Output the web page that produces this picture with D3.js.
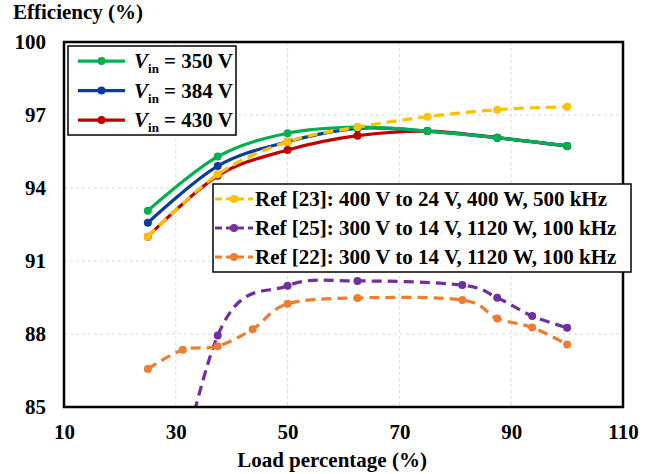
<!DOCTYPE html>
<html>
<head>
<meta charset="utf-8">
<script src="https://cdn.jsdelivr.net/npm/d3@7/dist/d3.min.js"></script>
<style>
  html, body { margin: 0; padding: 0; background: #fff; }
  svg { display: block; font-family: "Liberation Serif", "Times New Roman", serif; font-weight: bold; }
</style>
</head>
<body>
<svg id="chart" width="657" height="474"></svg>
<script>
// ---- data ----
const loadX = [25, 37.5, 50, 62.5, 75, 87.5, 100];
const vin350 = [93.07, 95.29, 96.25, 96.5, 96.34, 96.07, 95.73];
const vin384 = [92.57, 94.9, 95.9, 96.45, 96.34, 96.07, 95.73];
const vin430 = [92.0, 94.5, 95.56, 96.15, 96.34, 96.07, 95.73];
const ref23 = [92.0, 94.56, 95.9, 96.5, 96.93, 97.22, 97.34];
const ref25X = [25, 37.5, 50, 62.5, 81.25, 87.5, 93.75, 100];
const ref25 = [76.5, 87.94, 89.98, 90.18, 90.01, 89.49, 88.74, 88.26];
const ref22X = [25, 31.25, 37.5, 43.75, 50, 62.5, 81.25, 87.5, 93.75, 100];
const ref22 = [86.56, 87.35, 87.5, 88.2, 89.24, 89.48, 89.4, 88.64, 88.27, 87.57];
const xTicks = [10, 30, 50, 70, 90, 110];
const yTicks = [85, 88, 91, 94, 97, 100];
const vinLabels = ["350", "384", "430"];
const refLabels = [
  "Ref [23]: 400 V to 24 V, 400 W, 500 kHz",
  "Ref [25]: 300 V to 14 V, 1120 W, 100 kHz",
  "Ref [22]: 300 V to 14 V, 1120 W, 100 kHz"
];
const xTitle = "Load percentage (%)";
const yTitle = "Efficiency (%)";

// ---- layout ----
const L = 64, R = 623, T = 42, B = 407;
const svg = d3.select("#chart");
const x = d3.scaleLinear().domain([10, 110]).range([L, R]);
const y = d3.scaleLinear().domain([85, 100]).range([B, T]);

// gridlines
svg.append("g").selectAll("line").data(xTicks.slice(1, -1)).join("line")
  .attr("x1", d => x(d)).attr("x2", d => x(d)).attr("y1", T).attr("y2", B)
  .attr("stroke", "#d9d9d9").attr("stroke-width", 1).attr("stroke-dasharray", "3,3");
svg.append("g").selectAll("line").data(yTicks.slice(1, -1)).join("line")
  .attr("y1", d => y(d)).attr("y2", d => y(d)).attr("x1", L).attr("x2", R)
  .attr("stroke", "#d9d9d9").attr("stroke-width", 1).attr("stroke-dasharray", "3,3");

// axes labels
const ax = svg.append("g").attr("transform", `translate(0,${B})`)
  .call(d3.axisBottom(x).tickValues(xTicks).tickSize(0).tickPadding(17).tickFormat(d3.format("d")));
const ay = svg.append("g").attr("transform", `translate(${L},0)`)
  .call(d3.axisLeft(y).tickValues(yTicks).tickSize(0).tickPadding(18).tickFormat(d3.format("d")));
[ax, ay].forEach(g => {
  g.select(".domain").remove();
  g.selectAll("text").attr("font-size", 21).attr("font-family", "Liberation Serif, Times New Roman, serif")
    .attr("font-weight", "bold").attr("fill", "#000");
});

svg.append("text").attr("x", 13).attr("y", 19).attr("font-size", 21).text(yTitle);
svg.append("text").attr("x", 332).attr("y", 467).attr("font-size", 21)
  .attr("text-anchor", "middle").text(xTitle);

// clip
svg.append("clipPath").attr("id", "plotclip").append("rect")
  .attr("x", L).attr("y", T).attr("width", R - L).attr("height", B - T);

const line = d3.line().x(d => x(d[0])).y(d => y(d[1])).curve(d3.curveCardinal.tension(0));
const plot = svg.append("g").attr("clip-path", "url(#plotclip)");

const series = [
  { xs: loadX, ys: vin430, color: "#c00000", dash: null },
  { xs: loadX, ys: vin384, color: "#0b3c9c", dash: null },
  { xs: loadX, ys: vin350, color: "#00b050", dash: null },
  { xs: loadX, ys: ref23, color: "#ffc000", dash: "10,6" },
  { xs: ref25X, ys: ref25, color: "#7030a0", dash: "10,6" },
  { xs: ref22X, ys: ref22, color: "#ed7d31", dash: "10,6" }
];
series.forEach(s => {
  const pts = s.xs.map((v, i) => [v, s.ys[i]]);
  plot.append("path").datum(pts).attr("d", line).attr("fill", "none")
    .attr("stroke", s.color).attr("stroke-width", 3.25)
    .attr("stroke-dasharray", s.dash);
  plot.append("g").selectAll("circle").data(pts).join("circle")
    .attr("cx", d => x(d[0])).attr("cy", d => y(d[1])).attr("r", 4).attr("fill", s.color);
});

// frame
svg.append("rect").attr("x", L).attr("y", T).attr("width", R - L).attr("height", B - T)
  .attr("fill", "none").attr("stroke", "#000").attr("stroke-width", 2.5);

// legend 1
const lg1 = svg.append("g");
lg1.append("rect").attr("x", 68).attr("y", 46).attr("width", 168).attr("height", 89)
  .attr("fill", "#fff").attr("stroke", "#000").attr("stroke-width", 1.5);
[series[2], series[1], series[0]].forEach((s, i) => {
  const cy = 61 + i * 29.5;
  lg1.append("line").attr("x1", 78).attr("x2", 125).attr("y1", cy).attr("y2", cy)
    .attr("stroke", s.color).attr("stroke-width", 3.25);
  lg1.append("circle").attr("cx", 101.5).attr("cy", cy).attr("r", 4).attr("fill", s.color);
  const t = lg1.append("text").attr("x", 134).attr("y", cy + 7).attr("font-size", 21);
  t.append("tspan").attr("font-style", "italic").text("V");
  t.append("tspan").attr("font-size", 13).attr("dy", 5).text("in");
  t.append("tspan").attr("dy", -5).text(" = " + vinLabels[i] + " V");
});

// legend 2
const lg2 = svg.append("g");
lg2.append("rect").attr("x", 213).attr("y", 184).attr("width", 418).attr("height", 88)
  .attr("fill", "#fff").attr("stroke", "#000").attr("stroke-width", 1.5);
[series[3], series[4], series[5]].forEach((s, i) => {
  const cy = 199 + i * 29;
  lg2.append("line").attr("x1", 215).attr("x2", 253).attr("y1", cy).attr("y2", cy)
    .attr("stroke", s.color).attr("stroke-width", 3).attr("stroke-dasharray", "7,4");
  lg2.append("circle").attr("cx", 234).attr("cy", cy).attr("r", 4).attr("fill", s.color);
  lg2.append("text").attr("x", 255).attr("y", cy + 7).attr("font-size", 21).text(refLabels[i]);
});
</script>
</body>
</html>
